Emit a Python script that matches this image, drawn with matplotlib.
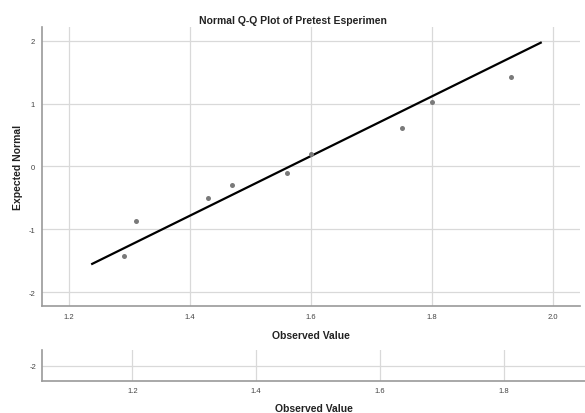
import matplotlib.pyplot as plt

plt.rcParams['font.family'] = ['Liberation Sans', 'DejaVu Sans']
plt.rcParams['axes.unicode_minus'] = False

# observed values and expected normal scores
observed = [1.29, 1.31, 1.43, 1.47, 1.56, 1.60, 1.75, 1.80, 1.93]
expected = [-1.43, -0.87, -0.50, -0.29, -0.10, 0.20, 0.61, 1.03, 1.43]

# reference line end points
line_x = [1.238, 1.98]
line_y = [-1.55, 1.97]

main_xticks = [1.2, 1.4, 1.6, 1.8, 2.0]
main_yticks = [-2, -1, 0, 1, 2]
sub_xticks = [1.2, 1.4, 1.6, 1.8]
sub_yticks = [-2]

grid_c = '#d9d9d9'
spine_c = '#9a9a9a'
text_c = '#444444'

fig = plt.figure(figsize=(5.85, 4.14), dpi=100)

ax = fig.add_axes([0.0718, 0.2585, 0.9197, 0.6739])
ax.plot(line_x, line_y, color='black', lw=1.6, zorder=3)
ax.plot(observed, expected, 'o', color='#7a7a7a', ms=3.6, mec='none', zorder=4)
ax.set_xlim(1.155, 2.045)
ax.set_ylim(-2.22, 2.22)
ax.set_xticks(main_xticks)
ax.set_xticklabels(['1.2', '1.4', '1.6', '1.8', '2.0'])
ax.set_yticks(main_yticks)
ax.grid(True, color=grid_c, lw=0.9)
ax.set_axisbelow(True)
for s in ['top', 'right']:
    ax.spines[s].set_visible(False)
for s in ['left', 'bottom']:
    ax.spines[s].set_color(spine_c)
    ax.spines[s].set_linewidth(1.2)
ax.tick_params(length=0, pad=5, labelsize=5.5, labelcolor=text_c)
ax.set_xlabel('Observed Value', fontsize=7.5, fontweight='bold', color='#222222', labelpad=7)
ax.set_ylabel('Expected Normal', fontsize=7.5, fontweight='bold', color='#222222', labelpad=4)

fig.text(0.5, 0.950, 'Normal Q-Q Plot of Pretest Esperimen', ha='center', va='center',
         fontsize=7.5, fontweight='bold', color='#222222')

# cropped second panel underneath
ax2 = fig.add_axes([0.0718, 0.0773, 0.9282, 0.0749])
ax2.set_xlim(1.0537, 1.9317)
ax2.set_ylim(-2.24, -1.745)
ax2.set_xticks(sub_xticks)
ax2.set_yticks(sub_yticks)
ax2.grid(True, color=grid_c, lw=0.9)
for s in ['top', 'right']:
    ax2.spines[s].set_visible(False)
for s in ['left', 'bottom']:
    ax2.spines[s].set_color(spine_c)
    ax2.spines[s].set_linewidth(1.2)
ax2.tick_params(length=0, pad=4, labelsize=5.5, labelcolor=text_c)
ax2.set_xlabel('Observed Value', fontsize=7.5, fontweight='bold', color='#222222', labelpad=7)

fig.savefig('out.png', dpi=100)
